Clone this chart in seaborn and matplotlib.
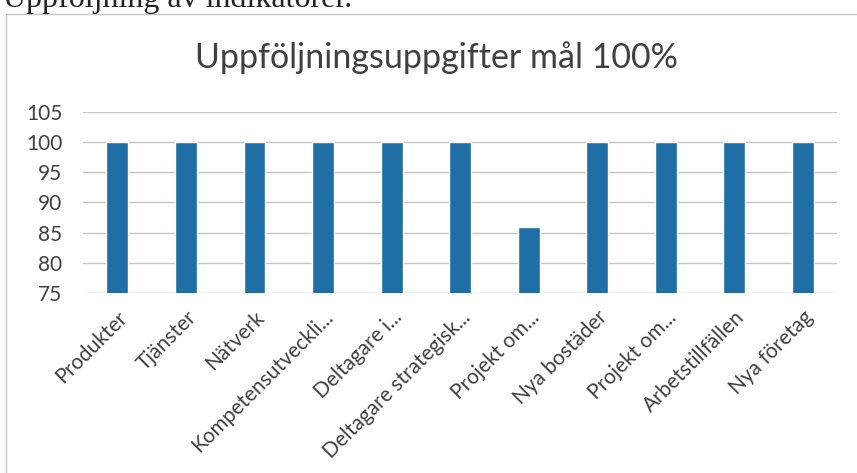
import seaborn as sns
import matplotlib.pyplot as plt
from matplotlib.patches import Rectangle

# data
categories = ["Produkter", "Tjänster", "Nätverk", "Kompetensutveckli...", "Deltagare i...",
              "Deltagare strategisk...", "Projekt om...", "Nya bostäder", "Projekt om...",
              "Arbetstillfällen", "Nya företag"]
values = [100, 100, 100, 100, 100, 100, 86, 100, 100, 100, 100]
yticks = [75, 80, 85, 90, 95, 100, 105]

sns.set_style("white")
plt.rcParams['font.family'] = ['Lato', 'DejaVu Sans']

fig = plt.figure(figsize=(8.57, 4.73), dpi=100)
ax = fig.add_axes([0.097, 0.380, 0.880, 0.384])

# unique x positions (two labels share the same text)
xpos = list(range(len(categories)))
sns.barplot(x=xpos, y=values, color="#1f6ea6", width=0.32, saturation=1, ax=ax)

ax.set_ylim(75, 105)
ax.set_yticks(yticks)
ax.set_xticks(xpos)
ax.set_xticklabels(categories, rotation=45, ha="right", rotation_mode="anchor",
                   fontsize=15, color="#404040")
ax.tick_params(axis="y", labelsize=15, labelcolor="#404040", length=0, pad=15)
ax.tick_params(axis="x", length=0, pad=10)
ax.yaxis.grid(True, color="#c4c4c4", lw=1)
ax.set_axisbelow(True)
for s in ax.spines.values():
    s.set_visible(False)
ax.set_xlabel("")
ax.set_ylabel("")

fig.text(0.509, 0.879, "Uppföljningsuppgifter mål 100%", ha="center", va="center",
         fontsize=24.5, color="#404040")

# chart frame and the line of page text above it
fig.patches.append(Rectangle((0.007, -0.2), 1.2, 1.17, transform=fig.transFigure,
                             fill=False, edgecolor="#c4c4c4", lw=1))
fig.text(0.004, 0.985, "Uppföljning av indikatorer.", ha="left", va="baseline",
         fontsize=23, family=["Liberation Serif"], color="#222222")

fig.savefig("out.png", dpi=100)
